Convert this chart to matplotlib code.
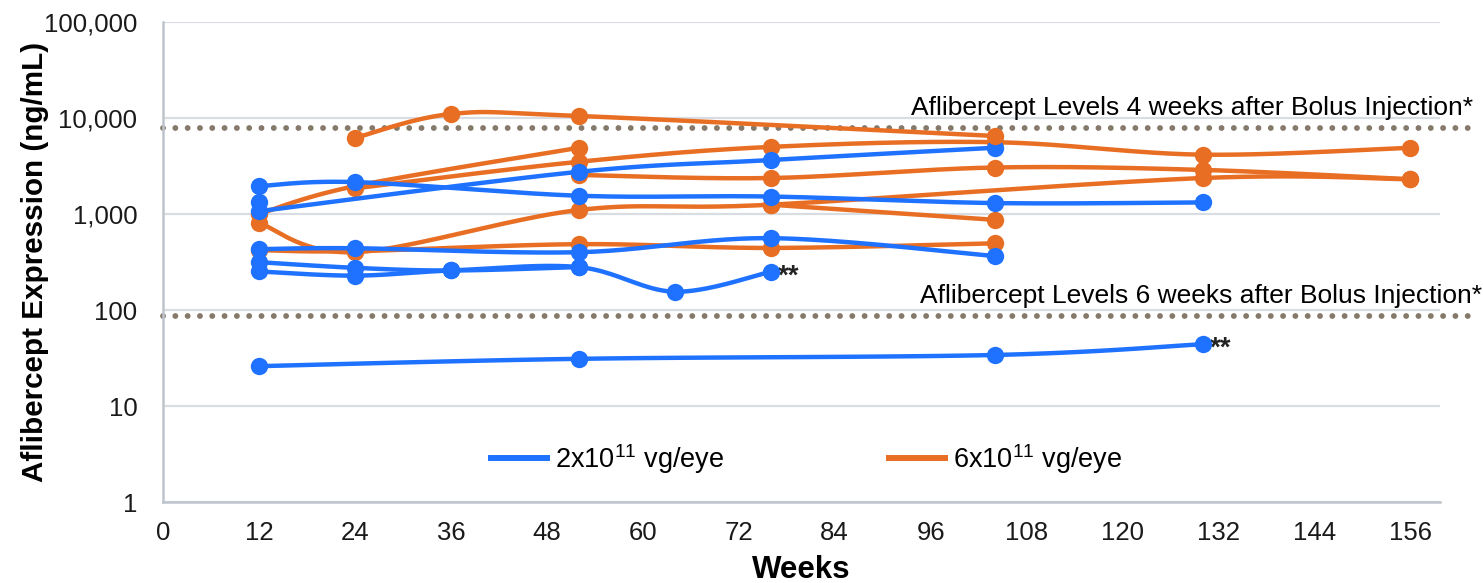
import numpy as np
import matplotlib
matplotlib.use("Agg")
import matplotlib.pyplot as plt
from matplotlib.lines import Line2D

plt.rcParams['font.family'] = ['Liberation Sans', 'DejaVu Sans']
plt.rcParams['mathtext.default'] = 'regular'

BLUE = '#1F72FF'
ORANGE = '#E86E24'
DOT = '#85796A'

# week / concentration (ng/mL) for each eye
low_dose = [
    ([12, 24, 52, 76, 104, 130], [1950, 2150, 1550, 1520, 1300, 1320]),
    ([12, 52, 76, 104], [1070, 2750, 3650, 4900]),
    ([12], [1330]),
    ([12, 24, 52, 76, 104], [430, 440, 400, 560, 365]),
    ([12, 24, 36, 52], [315, 275, 258, 280]),
    ([12, 24, 36, 52, 64, 76], [252, 228, 258, 280, 155, 250]),
    ([12, 52, 104, 130], [26, 31, 34, 44]),
]
high_dose = [
    ([12, 24, 52], [1000, 1950, 4900]),
    ([24, 52, 76, 104, 130, 156], [1850, 3500, 5000, 5600, 4150, 4900]),
    ([52, 76, 104, 130, 156], [2550, 2370, 3050, 2880, 2300]),
    ([12, 24, 52, 76, 130, 156], [810, 400, 1100, 1250, 2370, 2300]),
    ([76, 104], [1250, 870]),
    ([12, 24, 52, 76, 104], [420, 410, 485, 443, 495]),
    ([24, 36, 52, 104], [6200, 11000, 10500, 6500]),
]
ref_levels = [7900, 87]
ref_labels = ["Aflibercept Levels 4 weeks after Bolus Injection*",
              "Aflibercept Levels 6 weeks after Bolus Injection*"]
flagged = [(76, 250), (130, 44)]
xticks = list(range(0, 157, 12))
yticks = [1, 10, 100, 1000, 10000, 100000]


def smooth(xs, ys, n=40):
    # excel-like smoothed line: cubic bezier, control points from neighbours
    P = np.column_stack([np.asarray(xs, float), np.log10(ys)])
    if len(P) < 3:
        return P[:, 0], 10 ** P[:, 1]
    out = []
    t = np.linspace(0, 1, n)[:, None]
    for i in range(len(P) - 1):
        p0 = P[i - 1] if i > 0 else P[i]
        p1, p2 = P[i], P[i + 1]
        p3 = P[i + 2] if i + 2 < len(P) else P[i + 1]
        c1 = p1 + (p2 - p0) / 6
        c2 = p2 - (p3 - p1) / 6
        seg = (1 - t) ** 3 * p1 + 3 * (1 - t) ** 2 * t * c1 + 3 * (1 - t) * t ** 2 * c2 + t ** 3 * p2
        out.append(seg if i == 0 else seg[1:])
    out = np.vstack(out)
    return out[:, 0], 10 ** out[:, 1]


fig = plt.figure(figsize=(14.83, 5.83), dpi=100)
ax = fig.add_axes([163 / 1483, 1 - 502 / 583, (1440 - 163) / 1483, 480 / 583])

ax.set_yscale('log')
ax.set_ylim(1, 100000)
ax.set_xlim(0, 159.7)

def draw(series, color, z):
    for xs, ys in series:
        sx, sy = smooth(xs, ys)
        ax.plot(sx, sy, color=color, lw=3.2, solid_capstyle='round', zorder=z)
        ax.plot(xs, ys, 'o', color=color, ms=12.5, mec='none', zorder=z)

draw(high_dose[:-1], ORANGE, 3)
draw(low_dose, BLUE, 4)
draw(high_dose[-1:], ORANGE, 5)

for lvl in ref_levels:
    ax.plot([0, 163.8], [lvl, lvl], color=DOT, lw=4.2, linestyle=(0, (0.01, 2.1)),
            dash_capstyle='round', clip_on=False, zorder=2)
ax.text(163.8, ref_levels[0] * 1.22, ref_labels[0], ha='right', va='bottom', fontsize=19)
ax.text(165.0, ref_levels[1] * 1.22, ref_labels[1], ha='right', va='bottom', fontsize=19)

for fx, fy in flagged:
    ax.text(fx + 0.9, fy * 0.9, '**', ha='left', va='center', fontsize=20, fontweight='bold', color='#222222')

ax.set_xticks(xticks)
ax.set_yticks(yticks)
ax.set_yticklabels([f"{v:,}" for v in yticks])
ax.minorticks_off()
ax.tick_params(axis='both', length=0, labelsize=18.5, colors='#1a1a1a')
ax.tick_params(axis='y', pad=18.5)
ax.tick_params(axis='x', pad=14)
ax.grid(axis='y', color='#D9DDE3', lw=1.6)
ax.set_axisbelow(True)
for s in ['top', 'right']:
    ax.spines[s].set_visible(False)
for s in ['left', 'bottom']:
    ax.spines[s].set_color('#BFC5CE')
    ax.spines[s].set_linewidth(1.8)

ax.set_xlabel('Weeks', fontsize=22.5, fontweight='bold', labelpad=7)
ax.set_ylabel('Aflibercept Expression (ng/mL)', fontsize=21.3, fontweight='bold', labelpad=-4)

handles = [Line2D([], [], color=BLUE, lw=4.3), Line2D([], [], color=ORANGE, lw=4.3)]
ax.legend(handles, ['2x10$^{11}$ vg/eye', '6x10$^{11}$ vg/eye'], ncol=2, frameon=False,
          loc='center', bbox_to_anchor=(0.504, 0.09), fontsize=19.5, handlelength=2.05,
          columnspacing=6.1, handletextpad=0.3)

fig.savefig('out.png', dpi=100)
